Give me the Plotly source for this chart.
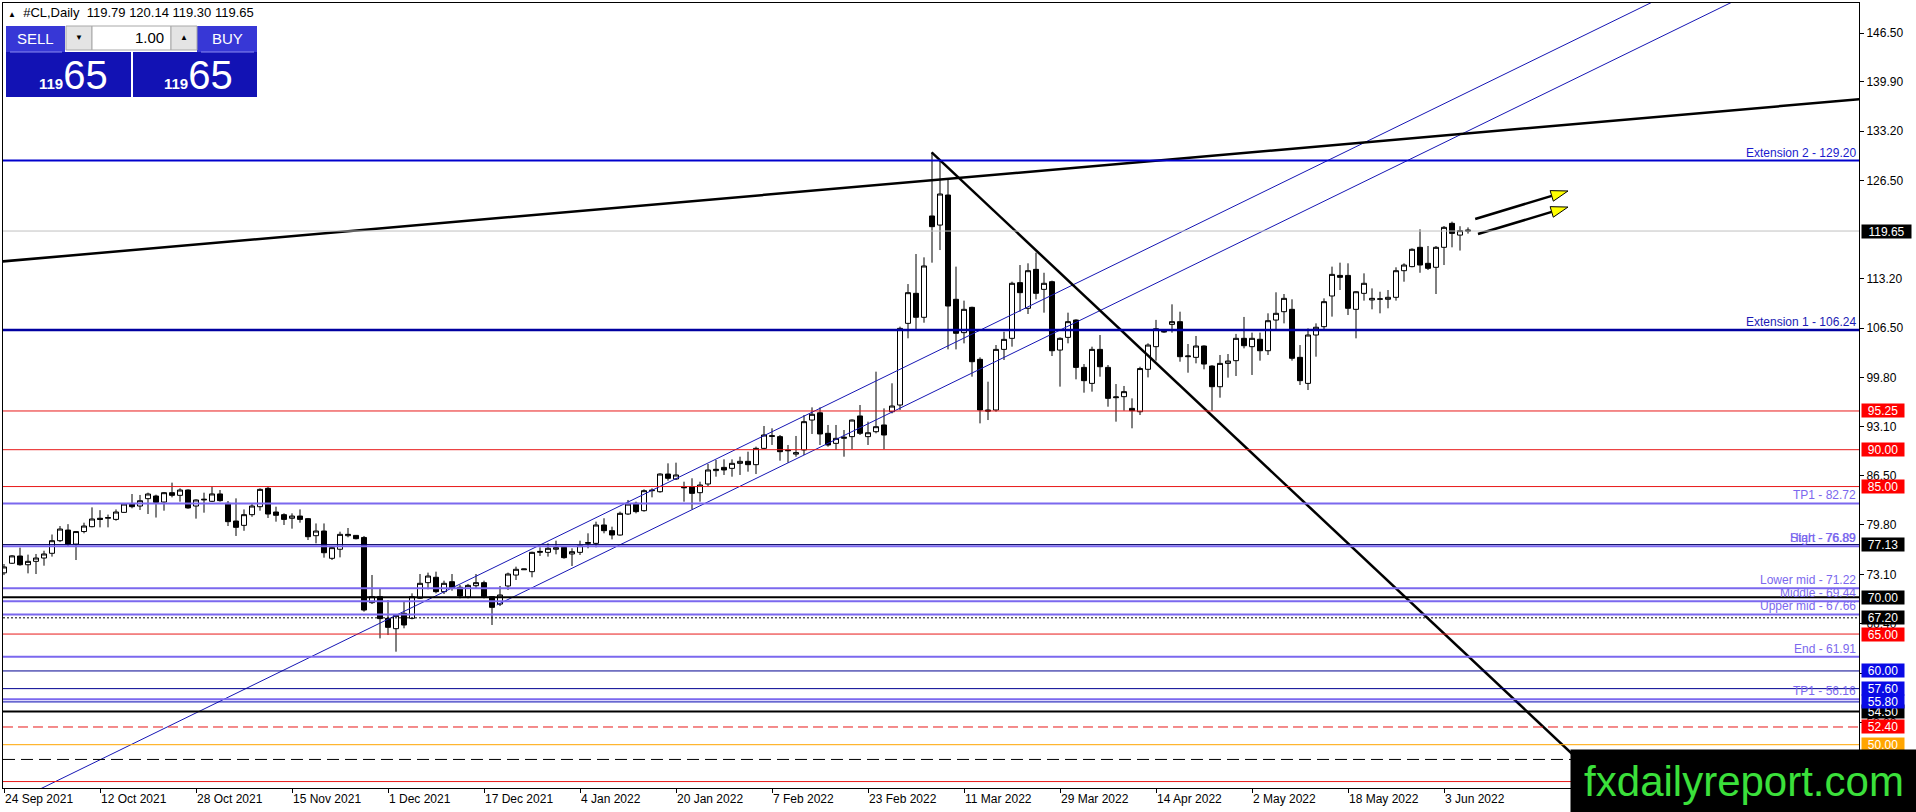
import math
import plotly.graph_objects as go

# ---------------- data ----------------
opens = [73.3, 74.6, 75.58, 74.4, 74.86, 75.31, 75.95, 77.66, 79.1, 77.2,
         78.9, 79.56, 80.7, 80.7, 80.55, 81.5, 82.63, 82.36, 83.36, 83.72,
         82.9, 84.17, 83.81, 84.53, 82.36, 83.18, 83.0, 84.0, 82.73, 80.33,
         79.74, 81.19, 82.27, 84.76, 81.55, 81.19, 80.7, 81.0, 80.65, 78.34,
         78.97, 75.27, 76.5, 78.34, 78.38, 78.1, 69.26, 70.07, 67.13, 65.73,
         67.81, 67.13, 69.85, 71.97, 72.7, 70.75, 72.1, 71.34, 70.03, 71.56,
         71.97, 70.07, 69.07, 71.52, 73.0, 73.72, 73.46, 76.08, 76.08, 76.5,
         76.76, 75.86, 76.08, 77.3, 77.3, 79.79, 79.02, 78.43, 81.28, 82.73,
         81.73, 84.44, 84.3, 86.7, 86.03, 84.98, 84.98, 84.17, 85.35, 87.16,
         87.6, 87.47, 88.15, 88.42, 87.97, 90.18, 91.9, 91.77, 89.96, 89.4,
         89.96, 94.02, 95.0, 92.22, 90.86, 91.54, 91.77, 94.57, 91.77, 92.44,
         93.35, 95.15, 96.06, 107.13, 111.2, 107.95, 121.69, 120.46, 124.53, 110.39,
         105.87, 109.3, 102.25, 95.38, 95.38, 103.6, 105.1, 112.65, 109.17, 114.45,
         111.74, 112.78, 103.51, 105.23, 107.58, 101.16, 98.99, 103.6, 101.16, 97.05,
         97.19, 95.6, 95.15, 100.9, 103.97, 105.95, 106.99, 107.36, 102.61, 102.52,
         104.06, 101.34, 98.54, 101.7, 102.07, 105.1, 103.97, 104.97, 103.42, 107.58,
         108.71, 109.03, 102.52, 98.99, 105.55, 106.68, 110.84, 113.63, 113.63, 109.03,
         111.2, 110.3, 110.39, 110.39, 110.66, 114.27, 114.82, 117.44, 115.27, 114.73,
         117.44, 120.69, 119.1, 119.79]
highs = [74.5, 75.7, 76.72, 75.77, 75.86, 76.3, 78.5, 79.65, 79.9, 78.95,
         80.1, 82.18, 81.8, 81.2, 81.9, 82.7, 83.99, 83.86, 84.17, 83.9,
         84.26, 85.53, 84.76, 84.62, 83.27, 84.17, 84.99, 84.53, 83.04, 83.4,
         81.9, 82.63, 84.76, 84.99, 82.27, 81.37, 81.37, 81.9, 80.74, 80.0,
         80.0, 76.94, 78.88, 79.38, 78.43, 78.3, 73.01, 71.2, 69.62, 67.6,
         69.39, 70.52, 73.14, 73.33, 73.46, 72.24, 73.14, 71.65, 71.8, 73.14,
         72.24, 70.16, 71.52, 73.33, 74.14, 73.85, 76.17, 76.76, 77.3, 77.66,
         76.94, 76.63, 77.66, 78.66, 80.24, 80.7, 79.56, 81.6, 83.18, 82.95,
         84.62, 84.76, 86.8, 88.15, 88.24, 85.66, 86.12, 85.66, 88.06, 88.6,
         88.69, 88.69, 89.05, 89.73, 90.41, 93.21, 92.9, 91.99, 90.64, 91.86,
         94.7, 95.74, 95.74, 93.35, 93.35, 92.67, 94.1, 96.06, 93.8, 100.58,
         95.6, 99.0, 106.68, 112.46, 116.53, 116.08, 130.32, 129.28, 126.66, 114.82,
         110.21, 109.39, 102.52, 99.22, 104.19, 106.0, 112.78, 115.04, 115.27, 116.71,
         113.99, 112.92, 105.23, 108.58, 107.67, 101.61, 103.97, 105.55, 101.48, 98.9,
         98.64, 96.96, 101.25, 104.42, 107.6, 106.1, 109.71, 108.71, 104.33, 105.42,
         104.15, 101.45, 102.84, 102.97, 105.7, 108.0, 105.87, 105.87, 108.49, 111.34,
         111.11, 110.39, 104.19, 106.45, 107.13, 110.52, 114.82, 115.36, 115.27, 111.5,
         113.91, 111.87, 111.42, 111.65, 114.73, 115.27, 117.3, 119.88, 117.62, 117.62,
         120.33, 120.92, 120.3, 120.14]
lows = [73.0, 74.5, 74.27, 73.23, 73.14, 74.27, 75.5, 77.47, 76.85, 75.04,
        78.66, 79.47, 79.47, 79.47, 80.37, 81.46, 82.05, 81.82, 81.28, 80.8,
        81.73, 83.54, 82.95, 82.0, 80.65, 81.46, 82.9, 82.95, 79.65, 78.3,
        79.0, 80.9, 81.73, 80.74, 80.24, 79.79, 79.29, 80.1, 77.75, 77.3,
        75.36, 75.04, 75.4, 78.12, 77.84, 68.04, 69.08, 64.42, 64.87, 62.61,
        65.78, 67.0, 69.75, 71.07, 70.52, 70.43, 70.88, 69.84, 69.84, 71.2,
        69.84, 66.23, 68.8, 70.97, 72.33, 73.7, 72.7, 75.59, 75.5, 75.81,
        75.22, 74.23, 75.72, 76.63, 76.76, 78.66, 77.84, 78.35, 81.15, 81.37,
        81.6, 83.54, 84.17, 85.8, 85.89, 82.95, 81.91, 82.95, 84.98, 86.34,
        86.57, 86.34, 86.57, 87.02, 86.7, 90.05, 90.64, 88.51, 88.24, 89.05,
        89.28, 92.13, 90.64, 90.41, 89.96, 89.05, 90.05, 91.99, 90.64, 92.22,
        90.05, 94.93, 95.38, 105.1, 106.32, 107.22, 115.36, 117.07, 103.6, 103.6,
        104.42, 99.9, 93.57, 94.02, 95.15, 102.16, 103.97, 108.71, 108.4, 110.39,
        108.58, 102.7, 98.55, 104.42, 99.54, 97.73, 97.87, 99.9, 95.83, 93.8,
        95.29, 92.9, 94.7, 99.8, 102.07, 105.85, 105.87, 101.93, 100.44, 101.71,
        100.9, 95.29, 97.05, 99.77, 99.99, 103.74, 100.13, 102.07, 102.84, 106.32,
        107.13, 102.07, 98.77, 98.09, 102.61, 106.32, 108.04, 111.65, 108.26, 105.1,
        110.21, 109.03, 108.49, 109.17, 110.21, 112.78, 114.73, 113.99, 114.36, 111.11,
        115.04, 117.44, 117.0, 119.3]
closes = [74.1, 75.6, 74.4, 74.86, 75.31, 75.86, 77.66, 79.24, 77.2, 78.9,
          79.65, 80.6, 80.55, 80.8, 81.55, 82.63, 82.27, 83.08, 83.99, 82.86,
          84.17, 83.81, 84.53, 82.1, 83.18, 83.27, 84.0, 83.09, 80.24, 79.47,
          81.19, 82.36, 84.62, 81.28, 81.1, 80.55, 81.0, 80.55, 78.2, 78.97,
          76.03, 76.72, 78.52, 78.52, 77.93, 68.26, 70.07, 67.09, 65.91, 67.54,
          66.23, 70.07, 71.88, 72.87, 70.75, 71.88, 71.2, 70.16, 71.6, 71.97,
          70.07, 68.62, 70.3, 73.14, 73.78, 73.82, 76.08, 76.2, 76.63, 76.72,
          75.36, 76.17, 76.99, 77.4, 79.79, 79.02, 78.43, 81.37, 82.63, 81.6,
          84.44, 84.5, 86.7, 86.12, 86.57, 84.85, 84.08, 85.21, 87.25, 87.34,
          87.25, 88.15, 88.42, 87.97, 90.18, 91.99, 91.82, 89.73, 89.87, 89.6,
          93.8, 94.8, 92.13, 90.64, 91.54, 91.68, 94.02, 92.22, 92.3, 93.12,
          91.99, 95.92, 106.45, 111.29, 107.95, 114.91, 120.24, 124.67, 109.48, 105.78,
          109.03, 101.93, 95.38, 95.24, 103.6, 104.96, 112.56, 111.29, 114.27, 111.2,
          112.56, 103.42, 105.1, 107.36, 101.16, 99.36, 103.6, 101.25, 96.96, 97.15,
          97.87, 95.29, 101.0, 104.19, 106.4, 106.05, 107.36, 102.61, 102.7, 104.06,
          101.61, 98.54, 101.7, 102.02, 105.1, 104.1, 105.1, 103.42, 107.49, 108.49,
          110.52, 102.39, 99.36, 105.55, 106.6, 110.07, 113.77, 113.37, 109.17, 111.42,
          112.56, 110.52, 110.45, 110.66, 114.27, 115.04, 117.17, 115.04, 114.59, 117.44,
          120.15, 119.33, 119.7, 119.65]
bar_index = list(range(len(opens)))

x_tick_index = [0, 12, 24, 36, 48, 60, 72, 84, 96, 108, 120, 132, 144, 156, 168, 180]
x_tick_labels = ["24 Sep 2021", "12 Oct 2021", "28 Oct 2021", "15 Nov 2021",
                 "1 Dec 2021", "17 Dec 2021", "4 Jan 2022", "20 Jan 2022",
                 "7 Feb 2022", "23 Feb 2022", "11 Mar 2022", "29 Mar 2022",
                 "14 Apr 2022", "2 May 2022", "18 May 2022", "3 Jun 2022"]

y_tick_values = [146.50, 139.90, 133.20, 126.50, 113.20, 106.50, 99.80, 93.10,
                 86.50, 79.80, 73.10, 66.40, 59.70, 53.00, 46.30]
y_tick_labels = ["%.2f" % v for v in y_tick_values]

# horizontal levels
level_prices = [129.20, 106.24, 119.65, 95.25, 90.00, 85.00, 82.72, 77.13, 76.89,
                71.22, 70.00, 69.44, 67.66, 67.20, 65.00, 61.91, 60.00, 57.60,
                56.16, 55.80, 54.50, 52.40, 50.00, 48.00, 45.00]
level_colors = ["#0000CD", "#0000A0", "#C0C0C0", "#E81818", "#E81818", "#E81818",
                "#7B68EE", "#000060", "#7B68EE", "#7B68EE", "#000000", "#7B68EE",
                "#7B68EE", "#000000", "#E81818", "#7B68EE", "#000090", "#000090",
                "#7B68EE", "#0000B0", "#000000", "#E81818", "#FFA500", "#000000",
                "#E81818"]
level_widths = [2, 2.5, 1, 1, 1, 1, 2, 1, 2, 2, 2, 2, 2, 1, 1, 2, 1, 1, 2, 1, 2, 1, 1, 1, 1]
level_dashes = ["solid"] * 13 + ["2px,2px"] + ["solid"] * 7 + ["10px,5px", "solid", "12px,6px", "solid"]

# level captions
caption_texts = ["Extension 2 - 129.20", "Extension 1 - 106.24", "TP1 - 82.72",
                 "Start - 76.89", "High - 76.89", "Lower mid - 71.22", "Middle - 69.44",
                 "Upper mid - 67.66", "End - 61.91", "TP1 - 56.16"]
caption_prices = [129.20, 106.24, 82.72, 76.89, 76.89, 71.22, 69.44, 67.66, 61.91, 56.16]
caption_colors = ["#1A1ACD", "#1A1AB4", "#7B68EE", "#7B68EE", "#7B68EE", "#7B68EE",
                  "#7B68EE", "#7B68EE", "#7B68EE", "#7B68EE"]

# price tags on the right scale (later ones drawn on top)
tag_prices = [119.65, 95.25, 90.00, 85.00, 77.13, 70.00, 67.20, 65.00, 60.00,
              57.60, 54.50, 55.80, 52.40, 48.00, 50.00]
tag_colors = ["#000000", "#FF0000", "#FF0000", "#FF0000", "#000000", "#000000",
              "#000000", "#FF0000", "#0A0AE6", "#0A0AE6", "#000000", "#0A0AE6",
              "#FF0000", "#000000", "#FFA500"]

# trend lines: (bar index, price) pairs
resistance_line_x = [-1.0, 233.0]
resistance_line_y = [115.45, 137.62]
falling_line_x = [115.96, 206.0]
falling_line_y = [130.32, 38.58]
channel_upper_x = [-1.0, 215.0]
channel_upper_y = [41.07, 155.44]
channel_lower_x = [61.59, 230.0]
channel_lower_y = [68.94, 158.10]
arrow_tails_x = [183.9, 184.25]
arrow_tails_y = [121.28, 119.25]
arrow_tips_x = [195.5, 195.5]
arrow_tips_y = [125.08, 122.90]

# ---------------- layout geometry ----------------
FIG_W, FIG_H = 1916, 812
PL, PR, PT, PB = 3, 1859, 3, 788          # plot area in pixels
X_RANGE = [-0.125, 231.875]
Y_RANGE = [44.127, 150.568]
PX_PER_X = (PR - PL) / (X_RANGE[1] - X_RANGE[0])
PX_PER_Y = (PB - PT) / (Y_RANGE[1] - Y_RANGE[0])


def px(X):
    return (X - PL) / (PR - PL)


def py(Y):
    return (PB - Y) / (PB - PT)


FONT = "Liberation Sans, Arial, sans-serif"

fig = go.Figure()

fig.add_trace(go.Candlestick(
    x=bar_index, open=opens, high=highs, low=lows, close=closes,
    increasing=dict(line=dict(color="black", width=1), fillcolor="white"),
    decreasing=dict(line=dict(color="black", width=1), fillcolor="black"),
    whiskerwidth=0, hoverinfo="skip", showlegend=False))

# sloped lines
fig.add_trace(go.Scatter(x=channel_upper_x, y=channel_upper_y, mode="lines",
                         line=dict(color="#1616B4", width=1), hoverinfo="skip", showlegend=False))
fig.add_trace(go.Scatter(x=channel_lower_x, y=channel_lower_y, mode="lines",
                         line=dict(color="#1616B4", width=1), hoverinfo="skip", showlegend=False))
fig.add_trace(go.Scatter(x=resistance_line_x, y=resistance_line_y, mode="lines",
                         line=dict(color="black", width=2.5), hoverinfo="skip", showlegend=False))
fig.add_trace(go.Scatter(x=falling_line_x, y=falling_line_y, mode="lines",
                         line=dict(color="black", width=2.5), hoverinfo="skip", showlegend=False))

# arrows with yellow heads
for tx, ty, hx, hy in zip(arrow_tails_x, arrow_tails_y, arrow_tips_x, arrow_tips_y):
    dx = (hx - tx) * PX_PER_X
    dy = -(hy - ty) * PX_PER_Y
    L = math.hypot(dx, dy)
    ux, uy = dx / L, dy / L
    nx, ny = -uy, ux
    head_len, half_w = 17.0, 5.5
    bx, by = -head_len * ux, -head_len * uy
    base_x = hx + bx / PX_PER_X
    base_y = hy - by / PX_PER_Y
    p1x = hx + (bx + half_w * nx) / PX_PER_X
    p1y = hy - (by + half_w * ny) / PX_PER_Y
    p2x = hx + (bx - half_w * nx) / PX_PER_X
    p2y = hy - (by - half_w * ny) / PX_PER_Y
    fig.add_trace(go.Scatter(x=[tx, base_x], y=[ty, base_y], mode="lines",
                             line=dict(color="black", width=2.5), hoverinfo="skip", showlegend=False))
    fig.add_trace(go.Scatter(x=[hx, p1x, p2x, hx], y=[hy, p1y, p2y, hy], mode="lines",
                             fill="toself", fillcolor="#FFFF00",
                             line=dict(color="black", width=1), hoverinfo="skip", showlegend=False))

shapes = []
for p, c, w, d in zip(level_prices, level_colors, level_widths, level_dashes):
    shapes.append(dict(type="line", xref="paper", x0=0, x1=1, yref="y", y0=p, y1=p,
                       line=dict(color=c, width=w, dash=d)))

# one-click trading panel
def rect(X0, Y0, X1, Y1, fill, line_color=None):
    return dict(type="rect", xref="paper", yref="paper", x0=px(X0), x1=px(X1),
                y0=py(Y1), y1=py(Y0), fillcolor=fill,
                line=dict(color=line_color or fill, width=1 if line_color else 0))

shapes += [
    rect(6, 26, 65, 52, "#3737D6"),
    rect(197, 26, 257, 52, "#3737D6"),
    rect(6, 52, 131, 97, "#1212B4"),
    rect(133, 52, 257, 97, "#1212B4"),
    rect(66, 26, 92, 50, "#E4E4E4", "#A8A8A8"),
    rect(92, 26, 171, 50, "#FFFFFF", "#A8A8A8"),
    rect(171, 26, 197, 50, "#E4E4E4", "#A8A8A8"),
    dict(type="line", xref="paper", yref="paper", x0=px(10), x1=px(62), y0=py(52), y1=py(52),
         line=dict(color="#8A8AF0", width=1)),
    dict(type="line", xref="paper", yref="paper", x0=px(201), x1=px(254), y0=py(52), y1=py(52),
         line=dict(color="#8A8AF0", width=1)),
]

ann = []
for t, p, c in zip(caption_texts, caption_prices, caption_colors):
    ann.append(dict(text=t, xref="paper", x=px(1857), xanchor="right", yref="y", y=p,
                    yanchor="bottom", showarrow=False, borderpad=0,
                    font=dict(family=FONT, size=12, color=c)))

for p, c in zip(tag_prices, tag_colors):
    label = "%.2f" % p
    ann.append(dict(text=label, xref="paper", x=1, xanchor="left", xshift=2,
                    yref="y", y=p, yanchor="middle", showarrow=False,
                    bgcolor=c, borderpad=0, width=len(label) * 7 + 7, height=13,
                    align="center", font=dict(family=FONT, size=12, color="white")))

# watermark
ann.append(dict(text="fxdailyreport.com", xref="paper", x=px(1570), xanchor="left",
                yref="paper", y=py(749), yanchor="top", showarrow=False,
                bgcolor="black", borderpad=0, width=346, height=63, align="center",
                font=dict(family=FONT, size=42, color="#3BE03B")))

# header and panel texts
ann.append(dict(text="<span style='font-size:8px'>▲</span>  #CL,Daily  119.79 120.14 119.30 119.65",
                xref="paper", x=px(6), xanchor="left", yref="paper", y=py(13), yanchor="middle",
                showarrow=False, font=dict(family=FONT, size=13, color="black")))
for txt, X in [("SELL", 35), ("BUY", 227)]:
    ann.append(dict(text=txt, xref="paper", x=px(X), xanchor="center", yref="paper", y=py(39),
                    yanchor="middle", showarrow=False,
                    font=dict(family=FONT, size=15, color="white")))
ann.append(dict(text="1.00", xref="paper", x=px(166), xanchor="right", yref="paper", y=py(38),
                yanchor="middle", showarrow=False, font=dict(family=FONT, size=15, color="black")))
for txt, X in [("▼", 79), ("▲", 184)]:
    ann.append(dict(text=txt, xref="paper", x=px(X), xanchor="center", yref="paper", y=py(38),
                    yanchor="middle", showarrow=False, font=dict(family=FONT, size=8, color="black")))
for X in [73, 198]:
    ann.append(dict(text="<b><span style='font-size:15px'>119</span></b><span style='font-size:40px'>65</span>",
                    xref="paper", x=px(X), xanchor="center", yref="paper", y=py(75),
                    yanchor="middle", showarrow=False,
                    font=dict(family=FONT, size=40, color="white")))

fig.update_layout(
    width=FIG_W, height=FIG_H, autosize=False,
    margin=dict(l=PL, r=FIG_W - PR, t=PT, b=FIG_H - PB, pad=0),
    paper_bgcolor="white", plot_bgcolor="white",
    showlegend=False, hovermode=False,
    boxgap=0.375, boxgroupgap=0,
    shapes=shapes, annotations=ann,
    xaxis=dict(range=X_RANGE, tickvals=x_tick_index, ticktext=x_tick_labels,
               ticks="outside", ticklen=4, tickcolor="black", showgrid=False,
               zeroline=False, showline=True, linecolor="black", linewidth=1, mirror=True,
               ticklabelposition="outside right", rangeslider=dict(visible=False),
               tickfont=dict(family=FONT, size=12, color="black"), fixedrange=True),
    yaxis=dict(range=Y_RANGE, side="right", tickvals=y_tick_values, ticktext=y_tick_labels,
               ticks="outside", ticklen=4, tickcolor="black", showgrid=False,
               zeroline=False, showline=True, linecolor="black", linewidth=1, mirror=True,
               tickfont=dict(family=FONT, size=12, color="black"), fixedrange=True),
)

fig.write_html("out.html", config={"displayModeBar": False},
               post_script="document.body.style.margin='0';document.body.style.overflow='hidden';")
